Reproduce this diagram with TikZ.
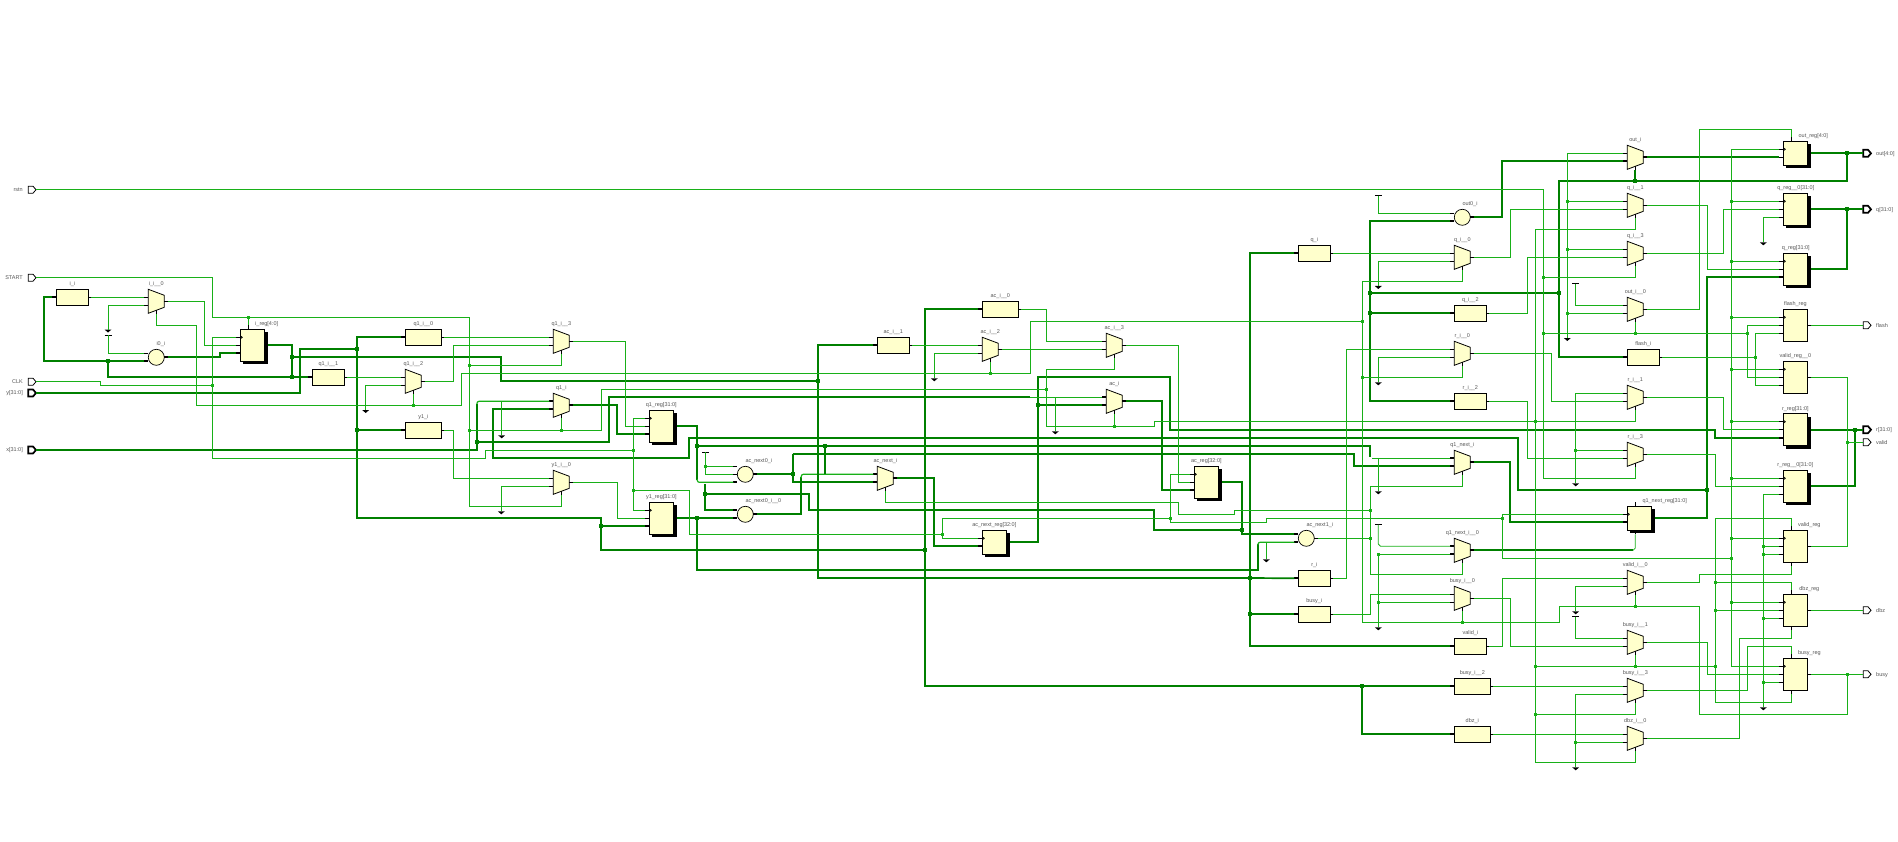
\documentclass[tikz,border=0pt]{standalone}
\usepackage{fontspec}
\setmainfont{Liberation Sans}
\usepackage{xcolor}
\usetikzlibrary{calc}
\definecolor{cellfill}{RGB}{255,255,204}
\definecolor{wirelight}{RGB}{24,176,24}
\definecolor{wiredark}{RGB}{0,128,0}
\definecolor{textgrey}{RGB}{85,85,85}
\newcommand{\rectcell}[4]{
	\node[cellbox, minimum width=#4pt, minimum height=16pt] (#1) at (#2,#3) {};
	\node[celllbl] (#1-l) at (#2+#4/2,#3-5.3) {\detokenize{#1}};
	\coordinate (#1-i) at (#2-4,#3+8);
	\coordinate (#1-o) at (#2+#4+3,#3+8);
	\draw[stubn] (#1-i) -- +(4,0);
	\draw[stubn] (#1-o) -- +(-3,0);
}
\newcommand{\muxcell}[3]{
	\node[muxbase] (#1) at (#2,#3) {};
	\draw[cellline] (#1.north west) -- ([yshift=-6pt]#1.north east) -- ([yshift=6pt]#1.south east) -- (#1.south west) -- cycle;
	\node[celllbl] (#1-l) at (#2+8,#3-5.3) {\detokenize{#1}};
	\coordinate (#1-a) at (#2-4,#3+8);
	\coordinate (#1-b) at (#2-4,#3+16);
	\coordinate (#1-s) at (#2+8,#3+25);
	\coordinate (#1-o) at (#2+20,#3+12);
	\draw[stubn] (#1-a) -- +(4,0);
	\draw[stubn] (#1-b) -- +(4,0);
	\draw[stubn] (#1-s) -- +(0,-4);
	\draw[stubn] (#1-o) -- +(-4,0);
}
\newcommand{\circcell}[4]{
	\node[circbase] (#1) at (#2,#3) {};
	\node[celllbl, anchor=west] (#1-l) at (#2,#3-13.5) {\detokenize{#1}};
	\foreach \p/\d in {#4} {
		\coordinate (#1-\p) at (#2-12,#3+\d);
		\draw[stubn] (#1-\p) -- +(4,0);
	}
	\coordinate (#1-o) at (#2+12,#3);
	\draw[stubn] (#1-o) -- +(-4,0);
}
\newcommand{\regcell}[6]{
	\node[cellbox, minimum width=24pt, minimum height=#5pt] (#1) at (#3,#4) {};
	\node[celllbl] (#1-l) at (#3+#6,#4-5) {\detokenize{#1}#2};
	\coordinate (#1-c) at (#3-4,#4+8);
	\coordinate (#1-d) at (#3-4,#4+16);
	\coordinate (#1-e) at (#3-4,#4+24);
	\coordinate (#1-t) at (#3+8,#4-4);
	\coordinate (#1-u) at (#3+8,#4+#5+4);
	\coordinate (#1-o) at (#3+27.4,#4+#5/2);
	\draw[stubn] (#1-c) -- +(4,0);
	\draw[stubn] (#1-d) -- +(4,0);
	\draw[stubn] (#1-o) -- +(-4,0);
	\draw[stubn] (#3,#4+6.5) -- (#3+2,#4+8) -- (#3,#4+9.5);
}
\newcommand{\regshad}[6]{
	\fill[black] (#3+3,#4+3) rectangle (#3+27.4,#4+#5+3);
	\regcell{#1}{#2}{#3}{#4}{#5}{#6}
}
\newcommand{\portin}[5]{
	\node[portbase] (#1) at (28.3,#4) {};
	\draw[#5] (#1.north west) -- ++(4.7,0) -- (36,#4) -- ++(-3,3.5) -- (#1.south west) -- cycle;
	\node[celllbl, anchor=east] (#1-l) at (23,#4+.3) {#2};
	\coordinate (#3) at (36,#4);
}
\newcommand{\portout}[5]{
	\node[portbase] (#1) at (1863.3,#4) {};
	\draw[#5] (#1.north west) -- ++(4.7,0) -- (1871,#4) -- ++(-3,3.5) -- (#1.south west) -- cycle;
	\node[celllbl, anchor=west] (#1-l) at (1876,#4+.3) {#2};
	\coordinate (#3) at (1863.3,#4);
}
\newcommand{\gndcell}[3]{
	\coordinate (#1) at (#2,#3);
	\fill[black] (#2-3.5,#3) -- (#2+3.5,#3) -- (#2,#3+3) -- cycle;
}
\newcommand{\vcccell}[3]{
	\coordinate (#1) at (#2,#3);
	\draw[black, line width=.8pt] (#2-3.5,#3) -- (#2+3.5,#3);
}
\newcommand{\juncn}[3]{
	\coordinate (#1) at (#2,#3);
	\node[dotn] (#1-n) at (#2,#3) {};
}
\newcommand{\junct}[3]{
	\coordinate (#1) at (#2,#3);
	\node[dott] (#1-n) at (#2,#3) {};
}
\begin{document}
\begin{tikzpicture}[x=1pt, y=-1pt,
	wn/.style = {draw=wirelight, line width=.8pt},
	wm/.style = {draw=wirelight, line width=1.2pt},
	wt/.style = {draw=wiredark, line width=1.7pt},
	stubn/.style = {draw=black, line width=.8pt},
	stubt/.style = {draw=black, line width=1.7pt},
	cellline/.style = {draw=black, fill=cellfill, line width=.8pt},
	cellbox/.style = {draw=black, fill=cellfill, line width=.8pt, rectangle, anchor=north west, inner sep=0pt, outer sep=0pt},
	muxbase/.style = {rectangle, anchor=north west, minimum width=16pt, minimum height=24pt, inner sep=0pt, outer sep=0pt},
	circbase/.style = {circle, draw=black, fill=cellfill, line width=.7pt, minimum size=16pt, inner sep=0pt, outer sep=0pt},
	portbase/.style = {rectangle, anchor=west, minimum width=7.7pt, minimum height=7pt, inner sep=0pt, outer sep=0pt},
	portn/.style = {draw=black, fill=white, line width=.8pt},
	portt/.style = {draw=black, fill=white, line width=1.7pt},
	celllbl/.style = {text=textgrey, font=\fontsize{5.5}{6}\selectfont, inner sep=0pt},
	dotn/.style = {fill=wirelight, rectangle, minimum size=2.8pt, inner sep=0pt},
	dott/.style = {fill=wiredark, rectangle, minimum size=4pt, inner sep=0pt}]
	\useasboundingbox (0,0) rectangle (1898,842);

	\portin{rstn}{rstn}{prstn}{189.7}{portn}
	\portin{START}{START}{pstart}{277.7}{portn}
	\portin{CLK}{CLK}{pclk}{381.7}{portn}
	\portin{y}{y[31:0]}{py}{393}{portt}
	\portin{x}{x[31:0]}{px}{450}{portt}
	\portout{out}{out[4:0]}{pout}{153.3}{portt}
	\portout{q}{q[31:0]}{pq}{209.3}{portt}
	\portout{flash}{flash}{pflash}{325.3}{portn}
	\portout{r}{r[31:0]}{pr}{429.7}{portt}
	\portout{valid}{valid}{pvalid}{442.3}{portn}
	\portout{dbz}{dbz}{pdbz}{610.3}{portn}
	\portout{busy}{busy}{pbusy}{674.3}{portn}

	\rectcell{i_i}{56.3}{289.3}{32}
	\muxcell{i_i__0}{148.3}{289.3}
	\circcell{i0_i}{156.3}{357.3}{a/-4,b/4}
	\regshad{i_reg}{[4:0]}{240.3}{329.3}{32}{26.4}
	\rectcell{q1_i__1}{312.3}{369.3}{32}
	\rectcell{q1_i__0}{405.3}{329.3}{36}
	\muxcell{q1_i__2}{405.3}{369.3}
	\rectcell{y1_i}{405.3}{422.3}{36}
	\muxcell{q1_i__3}{553.3}{329.3}
	\muxcell{q1_i}{553.3}{393.3}
	\muxcell{y1_i__0}{553.3}{470.3}
	\regshad{q1_reg}{[31:0]}{649.3}{410.3}{32}{12}
	\regshad{y1_reg}{[31:0]}{649.3}{502.3}{32}{12}
	\circcell{ac_next0_i}{745.3}{474.3}{a/-8,b/0,c/8}
	\circcell{ac_next0_i__0}{745.3}{514.3}{a/-4,b/4}
	\rectcell{ac_i__1}{877.3}{337.3}{32}
	\muxcell{ac_next_i}{877.3}{466.3}
	\rectcell{ac_i__0}{982.3}{301.3}{36}
	\muxcell{ac_i__2}{982.3}{337.3}
	\regshad{ac_next_reg}{[32:0]}{982.3}{530.3}{24}{12}
	\muxcell{ac_i__3}{1106.3}{333.3}
	\muxcell{ac_i}{1106.3}{389.3}
	\regshad{ac_reg}{[32:0]}{1194.3}{466.3}{32}{12}
	\rectcell{q_i}{1298.3}{245.3}{32}
	\circcell{ac_next1_i}{1306.3}{538.3}{a/-4,b/4}
	\rectcell{r_i}{1298.3}{570.3}{32}
	\rectcell{busy_i}{1298.3}{606.3}{32}
	\circcell{out0_i}{1462.3}{217.3}{a/-4,b/4}
	\muxcell{q_i__0}{1454.3}{245.3}
	\rectcell{q_i__2}{1454.3}{305.3}{32}
	\muxcell{r_i__0}{1454.3}{341.3}
	\rectcell{r_i__2}{1454.3}{393.3}{32}
	\muxcell{q1_next_i}{1454.3}{450.3}
	\muxcell{q1_next_i__0}{1454.3}{538.3}
	\muxcell{busy_i__0}{1454.3}{586.3}
	\rectcell{valid_i}{1454.3}{638.3}{32}
	\rectcell{busy_i__2}{1454.3}{678.3}{36}
	\rectcell{dbz_i}{1454.3}{726.3}{36}
	\muxcell{out_i}{1627.3}{145.3}
	\muxcell{q_i__1}{1627.3}{193.3}
	\muxcell{q_i__3}{1627.3}{241.3}
	\muxcell{out_i__0}{1627.3}{297.3}
	\rectcell{flash_i}{1627.3}{349.3}{32}
	\muxcell{r_i__1}{1627.3}{385.3}
	\muxcell{r_i__3}{1627.3}{442.3}
	\regshad{q1_next_reg}{[31:0]}{1627.3}{506.3}{24}{37.4}
	\muxcell{valid_i__0}{1627.3}{570.3}
	\muxcell{busy_i__1}{1627.3}{630.3}
	\muxcell{busy_i__3}{1627.3}{678.3}
	\muxcell{dbz_i__0}{1627.3}{726.3}
	\regshad{out_reg}{[4:0]}{1783.3}{141.3}{24}{30}
	\regshad{q_reg__0}{[31:0]}{1783.3}{193.3}{32}{12.5}
	\regshad{q_reg}{[31:0]}{1783.3}{253.3}{32}{12.5}
	\regcell{flash_reg}{}{1783.3}{309.3}{32}{12}
	\regcell{valid_reg__0}{}{1783.3}{361.3}{32}{12}
	\regshad{r_reg}{[31:0]}{1783.3}{413.7}{32}{12}
	\regshad{r_reg__0}{[31:0]}{1783.3}{470.3}{32}{12}
	\regcell{valid_reg}{}{1783.3}{530.3}{32}{26}
	\regcell{dbz_reg}{}{1783.3}{594.3}{32}{26}
	\regcell{busy_reg}{}{1783.3}{658.3}{32}{26}

	\foreach \p in {i_reg,q1_reg,y1_reg,ac_reg,q_reg__0,q_reg,flash_reg,valid_reg__0,r_reg,r_reg__0,valid_reg,dbz_reg,busy_reg}
		\draw[stubn] (\p-e) -- +(4,0);
	\foreach \p in {i_reg,q1_next_reg,out_reg,valid_reg,dbz_reg,busy_reg}
		\draw[stubn] (\p-t) -- +(0,4);
	\foreach \p in {q1_next_reg,valid_reg,dbz_reg,busy_reg}
		\draw[stubn] (\p-u) -- +(0,-4);
	\foreach \p in {i_i-i,i0_i-b,i_reg-e,q1_i__1-i,q1_i__0-i,y1_i-i,q1_i-a,q1_i-b,q1_reg-e,y1_reg-e,ac_next0_i-c,ac_next0_i__0-a,ac_next0_i__0-b,ac_next_i-a,ac_next_i-b,ac_i__1-i,ac_i__0-i,ac_next_reg-d,ac_i-a,ac_i-b,ac_reg-e,q_i-i,ac_next1_i-a,ac_next1_i-b,r_i-i,busy_i-i,valid_i-i,busy_i__2-i,dbz_i-i,out0_i-b,q_i__2-i,r_i__2-i,out_i-b,flash_i-i,q1_next_i-a,q1_next_i-b,q1_next_i__0-a,q1_next_i__0-b,q1_next_reg-d,q_reg-e,r_reg-e}
		\draw[stubt] (\p) -- +(4,0);
	\foreach \p in {i0_i-o,q1_i-o,ac_next0_i-o,ac_next0_i__0-o,ac_next_i-o,ac_i-o,out0_i-o,out_i-o,q1_next_i-o,q1_next_i__0-o}
		\draw[stubt] (\p) -- +(-4,0);

	\gndcell{gi}{108}{329.5}
	\vcccell{vi}{108}{335}
	\gndcell{gq12}{365.7}{410}
	\gndcell{gq1}{501.7}{435.3}
	\gndcell{gy1}{501.3}{511.3}
	\vcccell{vac0}{705.7}{452.3}
	\gndcell{gac2}{934.3}{378.3}
	\gndcell{gac}{1055.3}{431.3}
	\gndcell{gac1}{1266.3}{559.3}
	\vcccell{vout0}{1378.3}{195.7}
	\gndcell{gq0}{1378.3}{286}
	\gndcell{gr0}{1378.3}{382.3}
	\gndcell{gqn}{1378.3}{491.3}
	\vcccell{vqn}{1378.3}{524.7}
	\gndcell{gbu0}{1378.3}{627.3}
	\gndcell{gout}{1567.3}{338}
	\vcccell{vout}{1575.7}{283.7}
	\gndcell{gr1}{1575.7}{483.3}
	\gndcell{gva}{1575.7}{611.3}
	\vcccell{vbu}{1575.7}{616.7}
	\gndcell{gdb}{1575.7}{767.3}
	\gndcell{gq2}{1763.3}{242.3}
	\gndcell{gr2}{1763.3}{707.3}

	\junct{ji0}{108}{361.3}
	\junct{ji1}{292}{377.3}
	\junct{ji2}{292}{357.3}
	\junct{jy0}{356.7}{349}
	\junct{jy1}{356.7}{430.3}
	\junct{jx0}{477}{442}
	\junct{jy2}{601}{526.3}
	\junct{jq0}{697.3}{445.7}
	\junct{jy3}{697.3}{518.3}
	\junct{jq1}{705}{493.7}
	\junct{jn0}{792.7}{474.3}
	\junct{jac0}{817.7}{381}
	\junct{jn1}{825}{446}
	\junct{jy4}{925}{550}
	\junct{jn2}{1038}{405.3}
	\junct{jn3}{1242}{530}
	\junct{jb0}{1250}{578}
	\junct{jb1}{1250}{614.3}
	\junct{jb2}{1362}{686.3}
	\junct{jo0}{1370.3}{293.3}
	\junct{jo1}{1370.3}{313.3}
	\junct{jo2}{1559}{293.3}
	\junct{jo3}{1635.3}{181}
	\junct{jo4}{1847}{153.3}
	\junct{jq2}{1847}{209.3}
	\junct{jq3}{1707}{490}
	\junct{jr0}{1855}{429.7}

	\juncn{jst0}{248.3}{317.3}
	\juncn{jst1}{469.3}{365.3}
	\juncn{jst2}{469.3}{430.3}
	\juncn{jst3}{561.3}{430.3}
	\juncn{jse0}{413.3}{405.3}
	\juncn{jse1}{990.3}{373.3}
	\juncn{jse2}{1046.3}{389.3}
	\juncn{jse3}{1114.3}{426.3}
	\juncn{jclk0}{212.3}{385.3}
	\juncn{jclk1}{633.3}{450.3}
	\juncn{jclk2}{633.3}{490.3}
	\juncn{jclk3}{942.3}{534.3}
	\juncn{jclk4}{1170.3}{518.3}
	\juncn{jclk5}{1502.3}{518.3}
	\juncn{jv0}{705.7}{466.3}
	\juncn{jtn0}{1370.3}{510.3}
	\juncn{jtn1}{1370.3}{538.3}
	\juncn{jg0}{1378.3}{554.3}
	\juncn{jg1}{1378.3}{602.3}
	\juncn{jm0}{1362.3}{321.3}
	\juncn{jm1}{1362.3}{377.3}
	\juncn{jm2}{1462.3}{622.3}
	\juncn{jm3}{1635.3}{606.3}
	\juncn{jm4}{1847.3}{674.3}
	\juncn{js0}{1543.3}{277.3}
	\juncn{js1}{1543.3}{333.3}
	\juncn{js2}{1635.3}{333.3}
	\juncn{js3}{1747.3}{333.3}
	\juncn{jf0}{1755.3}{357.3}
	\juncn{jg2}{1567.3}{201.3}
	\juncn{jg3}{1567.3}{249.3}
	\juncn{jg4}{1567.3}{313.3}
	\juncn{jg5}{1575.7}{450.3}
	\juncn{jg6}{1575.7}{742.3}
	\juncn{jw0}{1535.3}{421.7}
	\juncn{jw1}{1535.3}{666.3}
	\juncn{jw2}{1535.3}{714.3}
	\juncn{jw3}{1635.3}{666.3}
	\juncn{jw4}{1715.3}{666.3}
	\juncn{jw5}{1715.3}{582.3}
	\juncn{jw6}{1715.3}{610.3}
	\juncn{jvl}{1847.3}{442.3}
	\foreach \n/\ypos in {a/546.3,b/554.3,c/618.3,d/682.3}
		\juncn{jk\n}{1763.3}{\ypos};

	\draw[wt] (i0_i-b) -| (44,297.3) -- (i_i-i);
	\draw[wt] (ji0) -- (108,377.3) -- (q1_i__1-i);
	\draw[wt] (i_reg-o) -| (ji1);
	\draw[wt] (ji2) -- (501,357.3) -- (501,381) -- (jac0);
	\draw[wt] (i0_i-o) -- (220,357.3) -- (220,353.3) -- (i_reg-e);
	\draw[wt] (py) -- (300,393) -- (300,349) -- (jy0);
	\draw[wt] (q1_i__0-i) -- (356.7,337.3) -- (356.7,518) -- (601,518) -- (601,550) -- (jy4);
	\draw[wt] (jy1) -- (y1_i-i);
	\draw[wt] (jy2) -- (y1_reg-e);
	\draw[wt] (ac_i__0-i) -- (925,309.3) -- (925,686.3) -- (busy_i__2-i);
	\draw[wt] (jb2) -- (1362,734.3) -- (dbz_i-i);
	\draw[wt] (px) -- (477,450) -- (477,403.5);
	\draw[wm, rounded corners=2pt] (477,404) -- (477,401.3) -- (q1_i-a);
	\draw[wt] (jx0) -- (609,442) -- (609,397.3) -- (1030,397.3);
	\draw[wt] (q1_i-b) -- (493,409.3) -- (493,457.7) -- (689,457.7) -- (689,438) -- (1518,438) -- (1518,490) -- (jq3);
	\draw[wt] (q1_i-o) -- (617,405.3) -- (617,434.3) -- (q1_reg-e);
	\draw[wt] (q1_reg-o) -- (697.3,426.3) -- (697.3,480);
	\draw[wm, rounded corners=2pt] (697.3,479) -- (697.3,482.3) -- (ac_next0_i-c);
	\draw[wt] (jq0) -- (1370.3,445.7) -- (1370.3,456.5);
	\draw[wm] (1372,458.3) -- (q1_next_i-a);
	\draw[wt] (y1_reg-o) -- (ac_next0_i__0-b);
	\draw[wt] (jy3) -- (697.3,570) -- (1258,570) -- (1258,544);
	\draw[wm, rounded corners=2pt] (1258,545) -- (1258,542.3) -- (ac_next1_i-b);
	\draw[wt] (705,484) -- (705,510.3) -- (ac_next0_i__0-a);
	\draw[wt] (jq1) -- (809.3,493.7) -- (809.3,509.7) -- (1154,509.7) -- (1154,530) -- (jn3);
	\draw[wt] (ac_next0_i-o) -- (jn0);
	\draw[wt] (792.7,454) -- (792.7,482.3) -- (ac_next_i-b);
	\draw[wt] (792.7,454) -- (1354.3,454) -- (1354.3,466.3) -- (q1_next_i-b);
	\draw[wt] (ac_next0_i__0-o) -- (801.3,514.3) -- (801.3,477);
	\draw[wm, rounded corners=2pt] (801.3,478) -- (801.3,474.3) -- (ac_next_i-a);
	\draw[wt] (jn1) -- (825,473.5);
	\draw[wt] (ac_next_i-o) -- (934,478.3) -- (934,546.3) -- (ac_next_reg-d);
	\draw[wt] (ac_next_reg-o) -- (1038,542.3) -- (1038,377) -- (1170,377) -- (1170,430) -- (1715,430) -- (1715,437.7) -- (r_reg-e);
	\draw[wt] (jn2) -- (ac_i-b);
	\draw[wt] (ac_reg-o) -- (1242,482.3) -- (1242,534.3) -- (ac_next1_i-a);
	\draw[wt] (ac_i__1-i) -- (817.7,345.3) -- (817.7,578) -- (jb0);
	\draw[wt] (q_i-i) -- (1250,253.3) -- (1250,646.3) -- (valid_i-i);
	\draw[wt] (jb0) -- (r_i-i);
	\draw[wt] (jb1) -- (busy_i-i);
	\draw[wt] (ac_i-o) -| (1162,490.3) -- (ac_reg-e);
	\draw[wt] (out0_i-b) -- (1370.3,221.3) -- (1370.3,401.3) -- (r_i__2-i);
	\draw[wt] (jo0) -- (jo2);
	\draw[wt] (jo1) -- (q_i__2-i);
	\draw[wt] (out0_i-o) -- (1502,217.3) -- (1502,161.3) -- (out_i-b);
	\draw[wt] (out_i-o) -- (out_reg-d);
	\draw[wt] (out_reg-o) -- (pout);
	\draw[wt] (jo4) -- (1847,181) -- (1559,181) -- (1559,357.3) -- (flash_i-i);
	\draw[wt] (jo3) -- (out_i-s);
	\draw[wt] (q_reg__0-o) -- (pq);
	\draw[wt] (jq2) -- (1847,269.3) -- (q_reg-o);
	\draw[wt] (q1_next_reg-o) -- (1707,518.3) -- (1707,277.3) -- (q_reg-e);
	\draw[wt] (r_reg-o) -- (pr);
	\draw[wt] (jr0) -- (1855,486.3) -- (r_reg__0-o);
	\draw[wt] (q1_next_i-o) -| (1510,522.3) -- (q1_next_reg-d);
	\draw[wt] (q1_next_i__0-o) -- (1633,550.3);

	\draw[wn] (1633,550.3) -- (1635.3,548) -- (q1_next_reg-u);
	\draw[wn] (i_i-o) -- (i_i__0-a);
	\draw[wn] (i_i__0-b) -| (gi);
	\draw[wn] (vi) |- (i0_i-a);
	\draw[wn] (i_i__0-o) -| (204.3,345.3) -- (i_reg-d);
	\draw[wn] (i_i__0-s) |- (196.7,325.3) -- (196.7,405.3) -- (461.7,405.3) -- (461.7,373.3) -- (1030.3,373.3) -- (1030.3,321.3) -- (jm0);
	\draw[wn] (pstart) -- (212.3,277.7) -- (212.3,317.3) -- (469.3,317.3) -- (469.3,506.3) -| (y1_i__0-s);
	\draw[wn] (jst0) -- (i_reg-t);
	\draw[wn] (jst1) -| (q1_i__3-s);
	\draw[wn] (jst2) -- (601.3,430.3) -- (601.3,389.3) -- (jse2);
	\draw[wn] (jst3) -- (q1_i-s);
	\draw[wn] (jse0) -- (q1_i__2-s);
	\draw[wn] (jse1) -- (ac_i__2-s);
	\draw[wn] (pclk) -- (100,381.7) -- (100,385.3) -- (jclk0);
	\draw[wn] (i_reg-c) -- (212.3,337.3) -- (212.3,458.3) -- (485.7,458.3) -- (485.7,450.3) -- (jclk1);
	\draw[wn] (q1_reg-c) -- (633.3,418.3) -- (633.3,510.3) -- (y1_reg-c);
	\draw[wn] (jclk2) -- (689.3,490.3) -- (689.3,534.3) -- (jclk3);
	\draw[wn] (ac_next_reg-c) -- (942.3,538.3) -- (942.3,518.3) -- (jclk4);
	\draw[wn] (ac_reg-c) -- (1170.3,474.3) -- (1170.3,522.3) -- (1266.3,522.3) -- (1266.3,518.3) -- (jclk5);
	\draw[wn] (q1_next_reg-c) -- (1502.3,514.3) -- (1502.3,558.3) -- (1731.3,558.3);
	\draw[wn] (out_reg-c) -- (1731.3,149.3) -- (1731.3,666.3) -- (busy_reg-c);
	\foreach \n/\ypos/\r in {a/201.3/q_reg__0,b/261.3/q_reg,c/317.3/flash_reg,d/369.3/valid_reg__0,e/421.7/r_reg,f/478.3/r_reg__0,g/538.3/valid_reg,h/602.3/dbz_reg} {
		\juncn{jc\n}{1731.3}{\ypos}
		\draw[wn] (jc\n) -- (\r-c);
	}
	\juncn{jci}{1731.3}{558.3}
	\draw[wn] (1030,397.3) -- (ac_i-a);
	\draw[wn] (501.7,401.3) -- (gq1);
	\draw[wn] (1055.3,397.3) -- (gac);
	\draw[wn] (1378.3,458.3) -- (gqn);
	\draw[wn] (1266.3,542.3) -- (gac1);
	\draw[wn] (q1_i__3-o) -| (625.3,426.3) -- (q1_reg-d);
	\draw[wn] (q1_i__0-o) -- (q1_i__3-a);
	\draw[wn] (q1_i__1-o) -- (q1_i__2-a);
	\draw[wn] (q1_i__2-b) -| (gq12);
	\draw[wn] (q1_i__2-o) -| (453.3,345.3) -- (q1_i__3-b);
	\draw[wn] (y1_i-o) -| (453.3,478.3) -- (y1_i__0-a);
	\draw[wn] (y1_i__0-b) -| (gy1);
	\draw[wn] (y1_i__0-o) -| (617.3,518.3) -- (y1_reg-d);
	\draw[wn] (vac0) -- (705.7,474.3) -- (ac_next0_i-b);
	\draw[wn] (jv0) -- (ac_next0_i-a);
	\draw[wn] (ac_next_i-s) |- (1178.7,502.3) -- (1178.7,514.3) -- (1234.3,514.3) -- (1234.3,510.3) -- (jtn0);
	\draw[wn] (q1_next_i-s) |- (1370.3,486.3) -- (1370.3,574.3) -| (q1_next_i__0-s);
	\draw[wn] (ac_next1_i-o) -- (jtn1);
	\draw[wn] (ac_i__1-o) -- (ac_i__2-a);
	\draw[wn] (ac_i__2-b) -| (gac2);
	\draw[wn] (ac_i__2-o) -- (ac_i__3-b);
	\draw[wn] (ac_i__0-o) -| (1046.3,341.3) -- (ac_i__3-a);
	\draw[wn] (ac_i__3-s) |- (1046.3,369.3) -- (1046.3,426.3) -- (1154.3,426.3) -- (1154.3,421.7) -- (1635.3,421.7) -- (r_i__1-s);
	\draw[wn] (jse3) -- (ac_i-s);
	\draw[wn] (ac_i__3-o) -| (1178.3,482.3) -- (ac_reg-d);
	\draw[wn] (q_i-o) -- (q_i__0-a);
	\draw[wn] (q_i__0-b) -| (gq0);
	\draw[wn] (q_i__0-s) |- (1362.3,281.3) -- (1362.3,622.3) -- (1559.3,622.3) -- (1559.3,606.3) -- (1699.3,606.3) -- (1699.3,714.3) -- (1847.3,714.3) -- (jm4);
	\draw[wn] (jm1) -| (r_i__0-s);
	\draw[wn] (jm2) -- (busy_i__0-s);
	\draw[wn] (jm3) -- (valid_i__0-s);
	\draw[wn] (r_i-o) -- (1346.3,578.3) -- (1346.3,349.3) -- (r_i__0-a);
	\draw[wn] (r_i__0-b) -| (gr0);
	\draw[wn] (busy_i-o) -| (1370.3,594.3) -- (busy_i__0-a);
	\draw[wn] (vqn) -- (1378.3,544) -- (1380.5,546.3) -- (q1_next_i__0-a);
	\draw[wn] (q1_next_i__0-b) -- (jg0) -- (gbu0);
	\draw[wn] (jg1) -- (busy_i__0-b);
	\draw[wn] (vout0) |- (out0_i-a);
	\draw[wn] (q_i__0-o) -| (1510.3,209.3) -- (q_i__1-b);
	\draw[wn] (q_i__2-o) -| (1527.3,257.3) -- (q_i__3-b);
	\draw[wn] (r_i__0-o) -| (1551.3,401.3) -- (r_i__1-b);
	\draw[wn] (r_i__2-o) -| (1527.3,458.3) -- (r_i__3-b);
	\draw[wn] (out_i-a) -| (gout);
	\draw[wn] (jg2) -- (q_i__1-a);
	\draw[wn] (jg3) -- (q_i__3-a);
	\draw[wn] (jg4) -- (out_i__0-b);
	\draw[wn] (vout) |- (out_i__0-a);
	\draw[wn] (prstn) -- (1543.3,189.7) -- (1543.3,478.3) -| (r_i__3-s);
	\draw[wn] (q_i__1-s) |- (1535.3,229.3) -- (1535.3,762) -| (dbz_i__0-s);
	\draw[wn] (jw1) -- (jw4);
	\draw[wn] (jw3) -- (busy_i__1-s);
	\draw[wn] (jw2) -| (busy_i__3-s);
	\draw[wn] (q_i__3-s) |- (js0);
	\draw[wn] (js2) -- (out_i__0-s);
	\draw[wn] (js1) -- (js3);
	\draw[wn] (q_i__1-o) -| (1707.3,269.3) -- (q_reg-d);
	\draw[wn] (q_i__3-o) -| (1723.3,209.3) -- (q_reg__0-d);
	\draw[wn] (q_reg__0-e) -| (gq2);
	\draw[wn] (out_i__0-o) -| (1699.3,129.3) -| (out_reg-t);
	\draw[wn] (flash_reg-d) -- (1747.3,325.3) -- (1747.3,377.3) -- (valid_reg__0-d);
	\draw[wn] (flash_reg-e) -- (1755.3,333.3) -- (1755.3,385.3) -- (valid_reg__0-e);
	\draw[wn] (flash_i-o) -- (jf0);
	\draw[wn] (flash_reg-o) -- (pflash);
	\draw[wn] (valid_reg__0-o) -- (1847.3,377.3) -- (1847.3,546.3) -- (valid_reg-o);
	\draw[wn] (jvl) -- (pvalid);
	\draw[wn] (r_i__1-o) -| (1723.3,429.7) -- (r_reg-d);
	\draw[wn] (r_i__3-o) -| (1715.3,486.3) -- (r_reg__0-d);
	\draw[wn] (r_reg__0-e) -| (gr2);
	\draw[wn] (jka) -- (valid_reg-d);
	\draw[wn] (jkb) -- (valid_reg-e);
	\draw[wn] (jkc) -- (dbz_reg-e);
	\draw[wn] (jkd) -- (busy_reg-e);
	\draw[wn] (valid_reg-t) |- (1715.3,518.3) -- (1715.3,702.3) -| (busy_reg-u);
	\draw[wn] (jw5) -| (dbz_reg-t);
	\draw[wn] (jw6) -- (dbz_reg-d);
	\draw[wn] (valid_i__0-o) -| (1699.3,574.3) -| (valid_reg-u);
	\draw[wn] (busy_i__1-o) -| (1707.3,674.3) -- (busy_reg-d);
	\draw[wn] (busy_i__3-o) -| (1747.3,646.3) -| (busy_reg-t);
	\draw[wn] (dbz_i__0-o) -| (1739.3,638.3) -| (dbz_reg-u);
	\draw[wn] (busy_reg-o) -- (pbusy);
	\draw[wn] (dbz_reg-o) -- (pdbz);
	\draw[wn] (valid_i-o) -| (1502.3,578.3) -- (valid_i__0-a);
	\draw[wn] (valid_i__0-b) -| (gva);
	\draw[wn] (vbu) |- (busy_i__1-a);
	\draw[wn] (busy_i__0-o) -| (1510.3,646.3) -- (busy_i__1-b);
	\draw[wn] (busy_i__2-o) -- (busy_i__3-a);
	\draw[wn] (busy_i__3-b) -- (1575.7,694.3) -- (gdb);
	\draw[wn] (jg6) -- (dbz_i__0-b);
	\draw[wn] (dbz_i-o) -- (dbz_i__0-a);
	\draw[wn] (r_i__1-a) -| (gr1);
	\draw[wn] (jg5) -- (r_i__3-a);
\end{tikzpicture}
\end{document}
